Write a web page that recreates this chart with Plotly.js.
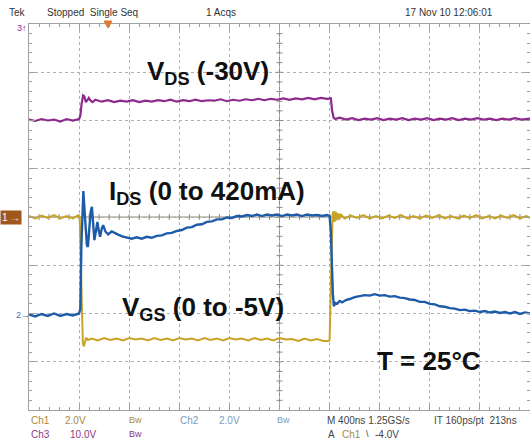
<!DOCTYPE html>
<html><head><meta charset="utf-8">
<script src="https://cdn.plot.ly/plotly-3.0.1.min.js"></script>
<style>html,body{margin:0;padding:0;background:#fff}#chart{width:530px;height:446px}</style>
</head><body><div id="chart"></div>
<script>
// Time in ns (400 ns/div), values in screen divisions (center = 0)
const ch3Time = [0,50,100,150,200,250,300,350,400,410,420,432,442,454,466,478,492,508,530,580,630,680,730,780,830,880,930,980,1030,1080,1130,1180,1230,1280,1330,1380,1430,1480,1530,1580,1630,1680,1730,1780,1830,1880,1930,1980,2030,2080,2130,2180,2230,2280,2330,2380,2410,2420,2432,2445,2480,2530,2580,2630,2680,2730,2780,2830,2880,2930,2980,3030,3080,3130,3180,3230,3280,3330,3380,3430,3480,3530,3580,3630,3680,3730,3780,3830,3880,3930,4000];
const ch3Vals = [2.02,1.99,2.03,2.00,2.02,1.98,2.03,2.00,2.03,2.10,2.35,2.52,2.50,2.38,2.42,2.47,2.41,2.38,2.43,2.39,2.42,2.38,2.41,2.39,2.42,2.38,2.41,2.39,2.42,2.40,2.43,2.39,2.42,2.40,2.43,2.40,2.42,2.41,2.44,2.40,2.43,2.41,2.44,2.42,2.45,2.42,2.45,2.43,2.46,2.43,2.46,2.44,2.47,2.44,2.47,2.45,2.46,2.20,2.06,2.03,2.06,2.02,2.05,2.01,2.04,2.02,2.05,2.01,2.04,2.02,2.05,2.01,2.04,2.02,2.05,2.01,2.04,2.02,2.05,2.01,2.04,2.02,2.05,2.02,2.04,2.01,2.04,2.02,2.05,2.02,2.04];

const ch1Time = [0,50,100,150,200,250,300,350,390,405,414,422,430,438,446,456,470,500,550,600,650,700,750,800,850,900,950,1000,1050,1100,1150,1200,1250,1300,1350,1400,1450,1500,1550,1600,1650,1700,1750,1800,1850,1900,1950,2000,2050,2100,2150,2200,2250,2300,2350,2390,2400,2408,2416,2424,2432,2440,2448,2456,2464,2474,2490,2520,2570,2620,2670,2720,2770,2820,2870,2920,2970,3020,3070,3120,3170,3220,3270,3320,3370,3420,3470,3520,3570,3620,3670,3720,3770,3820,3870,3920,3970,4000];
const ch1Vals = [0.02,-0.03,0.03,-0.02,0.04,-0.03,0.02,-0.03,0.03,0.00,-1.00,-2.20,-2.62,-2.68,-2.58,-2.50,-2.55,-2.52,-2.56,-2.51,-2.55,-2.52,-2.56,-2.51,-2.54,-2.52,-2.56,-2.51,-2.55,-2.52,-2.56,-2.51,-2.54,-2.52,-2.56,-2.51,-2.55,-2.52,-2.56,-2.51,-2.54,-2.52,-2.56,-2.51,-2.55,-2.52,-2.56,-2.51,-2.54,-2.53,-2.57,-2.52,-2.56,-2.53,-2.57,-2.57,-2.55,-1.90,-0.80,0.05,0.12,-0.10,0.11,-0.07,0.08,-0.05,0.05,-0.03,0.03,-0.02,0.04,-0.03,0.02,-0.03,0.03,-0.02,0.04,-0.03,0.02,-0.03,0.03,-0.02,0.04,-0.03,0.02,-0.03,0.03,-0.02,0.04,-0.03,0.02,-0.03,0.03,-0.02,0.04,-0.03,0.02,-0.02];

const ch2Time = [0,50,100,150,200,250,300,350,400,410,418,426,434,442,452,462,470,480,492,502,512,522,534,546,558,568,580,592,610,632,660,688,716,744,780,820,860,900,940,980,1020,1060,1100,1140,1180,1220,1260,1300,1340,1380,1420,1460,1500,1540,1580,1620,1660,1700,1740,1780,1820,1860,1900,1940,1980,2020,2060,2100,2140,2180,2220,2260,2300,2340,2380,2400,2410,2418,2426,2434,2444,2460,2480,2500,2530,2560,2600,2640,2680,2720,2760,2800,2840,2880,2920,2960,3000,3040,3080,3120,3160,3200,3240,3280,3320,3360,3400,3440,3480,3520,3560,3600,3640,3680,3720,3760,3800,3840,3880,3920,3960,4000];
const ch2Vals = [-2.02,-2.06,-2.01,-2.05,-2.00,-2.05,-2.01,-2.04,-2.00,-1.90,-0.60,0.30,0.54,0.20,-0.30,-0.58,-0.62,-0.30,0.10,0.21,-0.10,-0.48,-0.30,-0.10,-0.30,-0.41,-0.25,-0.17,-0.30,-0.36,-0.30,-0.34,-0.37,-0.40,-0.42,-0.45,-0.42,-0.45,-0.41,-0.43,-0.39,-0.38,-0.34,-0.33,-0.29,-0.27,-0.22,-0.21,-0.16,-0.15,-0.10,-0.09,-0.05,-0.05,-0.01,-0.02,0.02,0.01,0.04,0.02,0.05,0.02,0.05,0.03,0.05,0.02,0.05,0.03,0.05,0.02,0.05,0.03,0.04,0.02,0.04,0.02,-0.30,-1.00,-1.60,-1.85,-1.78,-1.80,-1.74,-1.77,-1.72,-1.70,-1.66,-1.64,-1.62,-1.63,-1.60,-1.63,-1.62,-1.65,-1.64,-1.67,-1.68,-1.71,-1.72,-1.76,-1.76,-1.80,-1.81,-1.85,-1.86,-1.89,-1.90,-1.93,-1.92,-1.95,-1.94,-1.97,-1.95,-1.98,-1.96,-1.99,-1.97,-2.00,-1.97,-2.01,-1.98,-2.00];

const xRange = [0, 4000];
const yRange = [-4, 4];
const xMinor = 80, yMinor = 0.2;

// geometry helpers for text placement (pixels -> paper)
const PL = 29, PW = 501, PT = 24, PH = 386;
const px = x => (x - PL) / PW;
const py = y => (PT + PH - y) / PH;

const FONT = 'Liberation Sans, Arial, sans-serif';
const C1 = '#c9a227', C2 = '#1e5ba8', C3 = '#8e2a8e';

const traces = [
  {x: ch1Time, y: ch1Vals, mode: 'lines', line: {color: C1, width: 2}, hoverinfo: 'skip'},
  {x: ch2Time, y: ch2Vals, mode: 'lines', line: {color: C2, width: 2.4}, hoverinfo: 'skip'},
  {x: ch3Time, y: ch3Vals, mode: 'lines', line: {color: C3, width: 2.2}, hoverinfo: 'skip'}
];

const borderCol = '#a0a0a0', centerCol = '#8c8c78', gridCol = '#b0b0b0';

const mainAxis = (range, dtick, minorDtick) => ({
  range: range, dtick: dtick, tick0: range[0], showgrid: true, gridcolor: gridCol, griddash: 'dot', gridwidth: 1,
  zeroline: false, showline: true, linecolor: borderCol, linewidth: 1, mirror: 'allticks',
  ticks: 'inside', ticklen: 6, tickcolor: borderCol, tickwidth: 1, showticklabels: false, fixedrange: true,
  minor: {dtick: minorDtick, tick0: range[0], ticks: 'inside', ticklen: 3, tickcolor: borderCol, showgrid: false}
});

// centre graticule cross with its small ticks (layout decoration)
const xMid = (xRange[0] + xRange[1]) / 2, yMid = (yRange[0] + yRange[1]) / 2;
const shapes = [
  {type: 'line', xref: 'x', yref: 'paper', x0: xMid, x1: xMid, y0: 0, y1: 1, line: {color: centerCol, width: 1}, layer: 'between'},
  {type: 'line', xref: 'paper', yref: 'y', x0: 0, x1: 1, y0: yMid, y1: yMid, line: {color: centerCol, width: 1}, layer: 'between'}
];
const nY = Math.round((yRange[1] - yRange[0]) / yMinor);
for (let k = 1; k < nY; k++) {
  const yv = yRange[0] + k * yMinor;
  shapes.push({type: 'line', xref: 'x', yref: 'y', xsizemode: 'pixel', xanchor: xMid, x0: -3, x1: 3, y0: yv, y1: yv,
    line: {color: centerCol, width: 1}, layer: 'between'});
}
const nX = Math.round((xRange[1] - xRange[0]) / xMinor);
for (let k = 1; k < nX; k++) {
  const xv = xRange[0] + k * xMinor;
  shapes.push({type: 'line', xref: 'x', yref: 'y', ysizemode: 'pixel', yanchor: yMid, y0: -3, y1: 3, x0: xv, x1: xv,
    line: {color: centerCol, width: 1}, layer: 'between'});
}
// trigger position marker (orange triangle on the top edge)
shapes.push({type: 'path', xref: 'paper', yref: 'paper',
  path: 'M ' + px(104) + ' ' + py(21) + ' L ' + px(112) + ' ' + py(21) + ' L ' + px(108) + ' ' + py(28) + ' Z',
  fillcolor: '#e07a30', line: {color: '#e07a30', width: 1}, layer: 'above'});

const ann = [];
function txt(x, y, t, size, color, xanchor, extra) {
  ann.push(Object.assign({xref: 'paper', yref: 'paper', x: px(x), y: py(y), text: t, showarrow: false,
    xanchor: xanchor || 'left', yanchor: 'middle', font: {family: FONT, size: size, color: color}}, extra || {}));
}
// big labels
txt(145, 72, '<b>V<sub>DS</sub> (-30V)</b>', 26, '#111');
txt(107, 192, '<b>I<sub>DS</sub> (0 to 420mA)</b>', 26, '#111');
txt(120, 308, '<b>V<sub>GS</sub> (0 to -5V)</b>', 26, '#111');
txt(375, 361, '<b>T = 25°C</b>', 26, '#111');
// header
txt(7, 13, 'Tek', 10, '#333');
txt(45, 13, 'Stopped&nbsp;&nbsp;Single Seq', 10, '#333');
txt(204, 13, '1 Acqs', 10, '#333');
txt(403, 13, '17 Nov 10 12:06:01', 10, '#333');
// footer row 1
txt(29, 420, 'Ch1', 10, '#a88a3a');
txt(63, 420, '2.0V', 10, '#a88a3a');
txt(127, 420, 'Bw', 9, '#a88a3a');
txt(178, 420, 'Ch2', 10, '#7a9cc0');
txt(217, 420, '2.0V', 10, '#7a9cc0');
txt(275, 420, 'Bw', 9, '#7a9cc0');
txt(325, 420, 'M 400ns 1.25GS/s', 10, '#444');
txt(432, 420, 'IT 160ps/pt&nbsp;&nbsp;213ns', 10, '#444');
// footer row 2
txt(29, 434, 'Ch3', 10, '#8a3a8a');
txt(68, 434, '10.0V', 10, '#8a3a8a');
txt(127, 434, 'Bw', 9, '#8a3a8a');
txt(326, 434, 'A', 10, '#444');
txt(340, 434, 'Ch1', 10, '#a88a3a');
txt(364, 434, '\\', 9, '#444');
txt(373, 434, '-4.0V', 10, '#444');
// channel markers
txt(15, 28, '3↑', 9, C3);
txt(0, 217, '1 →', 10, '#ffffff', 'left', {bgcolor: '#a0561c', borderpad: 1, font: {family: FONT, size: 10, color: '#fff'}});
txt(14, 315, '2→', 9, '#4a78b0');

const layout = {
  width: 530, height: 446,
  margin: {l: PL, r: 530 - PL - PW, t: PT, b: 446 - PT - PH, pad: 0},
  paper_bgcolor: '#ffffff', plot_bgcolor: '#ffffff', showlegend: false,
  xaxis: mainAxis(xRange, 400, xMinor),
  yaxis: mainAxis(yRange, 1, yMinor),
  shapes: shapes,
  annotations: ann
};

Plotly.newPlot('chart', traces, layout, {staticPlot: true, displayModeBar: false});
</script></body></html>
